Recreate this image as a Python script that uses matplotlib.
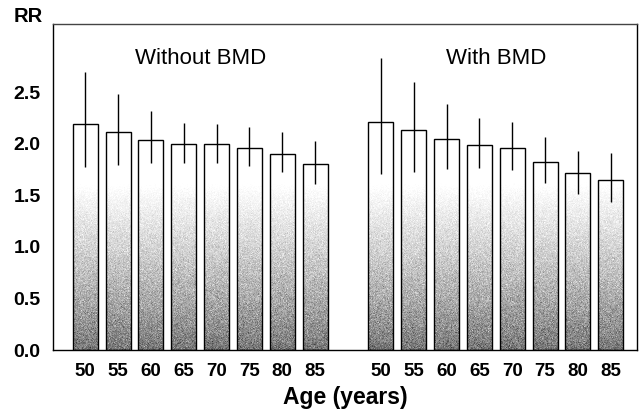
import numpy as np
import matplotlib
matplotlib.use('Agg')
import matplotlib.pyplot as plt

plt.rcParams['font.family'] = ['Liberation Sans', 'DejaVu Sans']

ages = ['50', '55', '60', '65', '70', '75', '80', '85']
groups = ['Without BMD', 'With BMD']

rr_without = [2.19, 2.11, 2.04, 2.00, 2.00, 1.96, 1.90, 1.80]
lo_without = [1.77, 1.79, 1.81, 1.81, 1.81, 1.78, 1.73, 1.61]
hi_without = [2.69, 2.48, 2.32, 2.20, 2.19, 2.16, 2.11, 2.03]

rr_with = [2.21, 2.13, 2.05, 1.99, 1.96, 1.82, 1.72, 1.65]
lo_with = [1.71, 1.73, 1.75, 1.76, 1.74, 1.62, 1.51, 1.43]
hi_with = [2.83, 2.60, 2.38, 2.25, 2.21, 2.06, 1.93, 1.91]

fig = plt.figure(figsize=(6.41, 4.11), dpi=100)
ax = fig.add_axes([0.0827, 0.1484, 0.9111, 0.7932])

rng = np.random.default_rng(3)   # texture only (stipple), not data
width = 0.76


def shaded_bar(x, h):
    # dithered grey ramp: dark at the bottom, fading to white higher up
    ny = max(int(h * 103), 2)
    nx = 25
    y = np.linspace(h, 0, ny)[:, None]
    t = np.clip(y / 1.7, 0, 1) ** 0.8
    base = 0.45 + 0.58 * t
    img = base + rng.normal(0, 0.08, (ny, nx)) * (1 - t ** 2)
    img = np.clip(img, 0, 1)
    ax.imshow(img, cmap='gray', vmin=0, vmax=1, aspect='auto', interpolation='nearest',
              extent=(x - width / 2, x + width / 2, 0, h), zorder=1)


positions = []
for g, (rr, lo, hi) in enumerate([(rr_without, lo_without, hi_without),
                                  (rr_with, lo_with, hi_with)]):
    xs = np.arange(len(ages)) + g * (len(ages) + 1)
    positions.extend(xs)
    for x, h in zip(xs, rr):
        shaded_bar(x, h)
    ax.bar(xs, rr, width=width, facecolor='none', edgecolor='black', linewidth=1.0, zorder=2)
    ax.vlines(xs, lo, hi, color='black', linewidth=1.0, zorder=3)
    ax.text(xs.mean(), 2.83, groups[g], ha='center', va='center', fontsize=16)

ax.set_xlim(-0.98, 16.8)
ax.set_ylim(0, 3.16)
ax.set_xticks(positions)
ax.set_xticklabels(ages * 2, fontsize=13.5, fontweight='bold')
ax.set_yticks([0, 0.5, 1.0, 1.5, 2.0, 2.5])
ax.set_yticklabels(['0.0', '0.5', '1.0', '1.5', '2.0', '2.5'], fontsize=14, fontweight='bold')
ax.tick_params(axis='both', length=0)
ax.tick_params(axis='y', pad=9)
ax.tick_params(axis='x', pad=9)
for s in ax.spines.values():
    s.set_linewidth(1.0)
ax.spines['top'].set_color('#444444')

ax.set_xlabel('Age (years)', fontsize=16.5, fontweight='bold', labelpad=5)
fig.text(14 / 641, 1 - 16 / 411, 'RR', fontsize=14.5, fontweight='bold', ha='left', va='center')

fig.savefig('out.png', dpi=100)
